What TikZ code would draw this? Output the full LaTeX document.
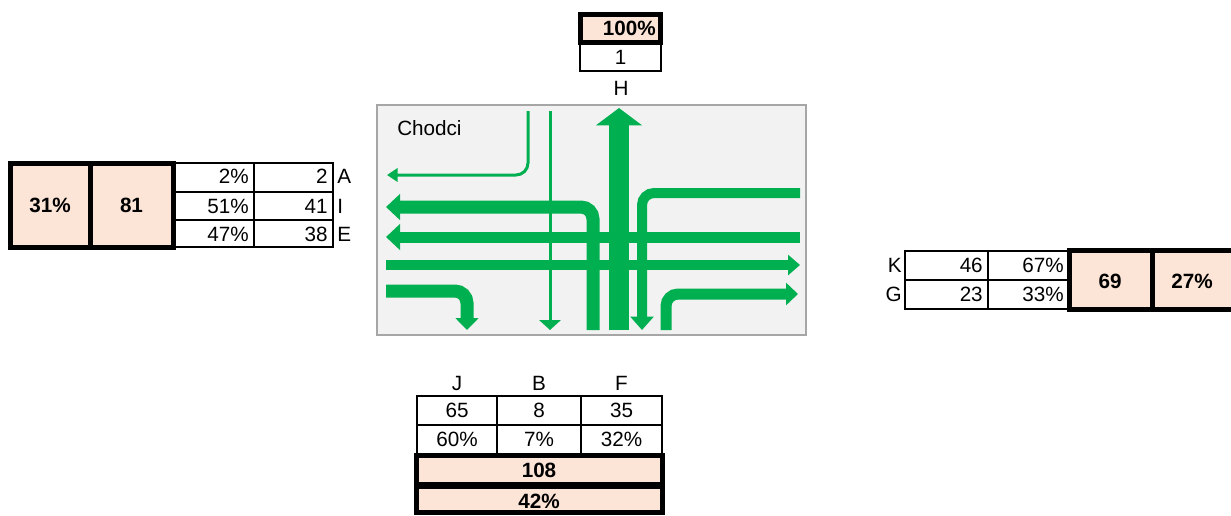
\documentclass[tikz,border=0pt]{standalone}
\usepackage{fontspec}
\setmainfont{Liberation Sans}
\usetikzlibrary{arrows.meta}
\definecolor{flowgreen}{HTML}{00B050}
\definecolor{cellpink}{HTML}{FCE4D6}
\definecolor{boxgray}{HTML}{F2F2F2}
\definecolor{edgegray}{HTML}{A6A6A6}
\tikzset{
  gridline/.style={draw=black, line width=1.5pt},
  sumbox/.style={draw=black, fill=cellpink, line width=3.75pt},
  txt/.style={inner sep=0pt, font=\fontsize{15.5}{18}\selectfont},
  btxt/.style={txt, font=\fontsize{15.5}{18}\selectfont\bfseries},
  flow/.style={draw=flowgreen, line width=#1, rounded corners=9pt}
}
\begin{document}
\begin{tikzpicture}[x=0.75pt, y=-0.75pt]
    \useasboundingbox (0,0) rectangle (1231,515);
    % crossing
    \draw[draw=edgegray, fill=boxgray, line width=1.2pt] (377,105) rectangle (806,335);
    \node[txt, anchor=west] (chodci) at (397,128) {Chodci};
    \draw[flow=2.25pt, -{Triangle[width=10pt,length=8pt]}] (528,111) -- (528,175) -- (387,175);
    \draw[flow=2.25pt, -{Triangle[width=16pt,length=7.5pt]}] (550,111) -- (550,330);
    \draw[flow=9.75pt, -{Triangle[width=19pt,length=10.5pt]}] (593,330) -- (593,207) -- (386,207);
    \draw[flow=8.25pt, -{Triangle[width=19pt,length=10.5pt]}] (800,237) -- (386,237);
    \draw[flow=7.5pt, -{Triangle[width=15pt,length=9pt]}] (386,265) -- (800,265);
    \draw[flow=9.75pt, -{Triangle[width=17pt,length=9pt]}] (386,291) -- (467,291) -- (467,330);
    \draw[flow=15pt, -{Triangle[width=34pt,length=13pt]}] (619,330) -- (619,108);
    \draw[flow=7.5pt, -{Triangle[width=17pt,length=10pt]}] (800,193) -- (642,193) -- (642,330);
    \draw[flow=8.25pt, -{Triangle[width=16.5pt,length=9pt]}] (666,330) -- (666,294) -- (798,294);
    % top (H)
    \draw[gridline] (580,42) rectangle (661,71);
    \draw[sumbox] (580.5,14) rectangle (660.5,42);
    \node[btxt, anchor=east] (hpct) at (656,28) {100\%};
    \node[txt] (hsum) at (620.5,57) {1};
    \node[txt] (hlab) at (621,88) {H};
    % left (A, I, E)
    \draw[gridline] (173,163) rectangle (333,247);
    \draw[gridline] (254,163) -- (254,247) (173,192) -- (333,192) (173,220) -- (333,220);
    \draw[sumbox] (10,163) rectangle (90,247);
    \draw[sumbox] (90,163) rectangle (173,247);
    \node[btxt] (lpct) at (50,205) {31\%};
    \node[btxt] (lsum) at (131.5,205) {81};
    \node[txt, anchor=east] (apct) at (249,176) {2\%};
    \node[txt, anchor=east] (anum) at (328,176) {2};
    \node[txt, anchor=west] (alab) at (337,176) {A};
    \node[txt, anchor=east] (ipct) at (249,206) {51\%};
    \node[txt, anchor=east] (inum) at (328,206) {41};
    \node[txt, anchor=west] (ilab) at (337,206) {I};
    \node[txt, anchor=east] (epct) at (249,234) {47\%};
    \node[txt, anchor=east] (enum) at (328,234) {38};
    \node[txt, anchor=west] (elab) at (337,234) {E};
    % right (K, G)
    \draw[gridline] (905,251) rectangle (1068,309);
    \draw[gridline] (988,251) -- (988,309) (905,280) -- (1068,280);
    \draw[sumbox] (1069,250.5) rectangle (1152,309);
    \draw[sumbox] (1152,250.5) rectangle (1236,309);
    \node[btxt] (rsum) at (1110,281) {69};
    \node[btxt] (rpct) at (1192,281) {27\%};
    \node[txt, anchor=east] (klab) at (902,265) {K};
    \node[txt, anchor=east] (knum) at (983,265) {46};
    \node[txt, anchor=east] (kpct) at (1064,265) {67\%};
    \node[txt, anchor=east] (glab) at (902,294) {G};
    \node[txt, anchor=east] (gnum) at (983,294) {23};
    \node[txt, anchor=east] (gpct) at (1064,294) {33\%};
    % bottom (J, B, F)
    \node[txt] (jlab) at (457,383) {J};
    \node[txt] (blab) at (539,383) {B};
    \node[txt] (flab) at (621.5,383) {F};
    \draw[gridline] (417,396) rectangle (662,454);
    \draw[gridline] (497,396) -- (497,454) (581,396) -- (581,454) (417,425) -- (662,425);
    \node[txt] (jnum) at (457,410.5) {65};
    \node[txt] (bnum) at (539,410.5) {8};
    \node[txt] (fnum) at (621.5,410.5) {35};
    \node[txt] (jpct) at (457,439.5) {60\%};
    \node[txt] (bpct) at (539,439.5) {7\%};
    \node[txt] (fpct) at (621.5,439.5) {32\%};
    \draw[sumbox] (416,455) rectangle (662,484);
    \draw[sumbox] (416,486) rectangle (662,512.5);
    \node[btxt] (bsum) at (539,470) {108};
    \node[btxt] (bsumpct) at (539,501) {42\%};
  \end{tikzpicture}
\end{document}
